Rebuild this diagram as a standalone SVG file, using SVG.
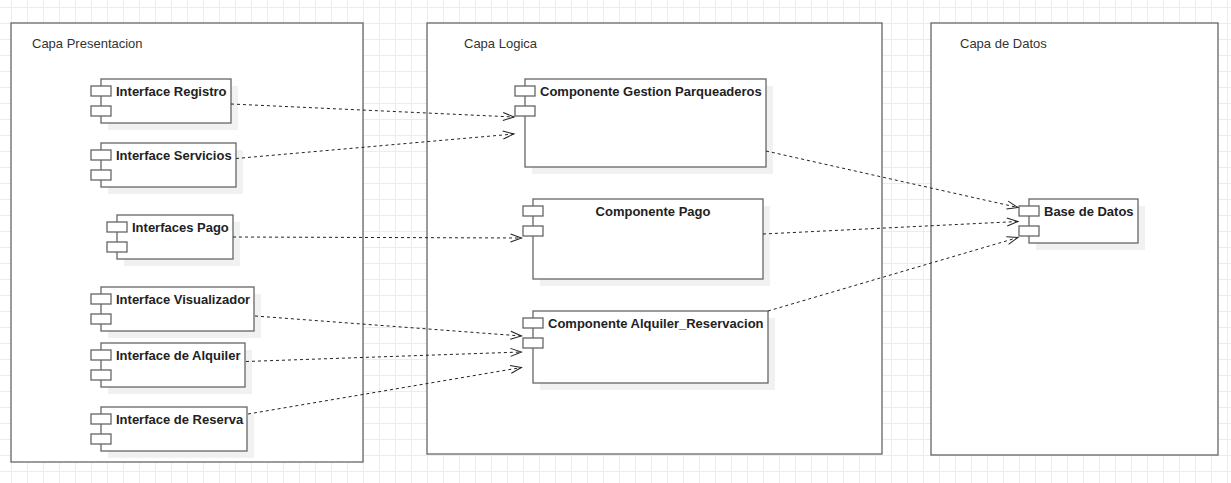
<svg xmlns="http://www.w3.org/2000/svg" width="1231" height="483" viewBox="0 0 1231 483">
<style>
.cont{fill:#fff;stroke:#666;stroke-width:1.3}
.clabel{font-family:"Liberation Sans",Arial,sans-serif;font-size:13px;fill:#333}
.body{fill:#fff;stroke:#666;stroke-width:1.3}
.jetty{fill:#fff;stroke:#666;stroke-width:1.3}
.shadow{fill:#f1f1f1}
.ntext{font-family:"Liberation Sans",Arial,sans-serif;font-size:13px;font-weight:bold;fill:#222}
.edge{fill:none;stroke:#222;stroke-width:1;stroke-dasharray:3 3}
</style>
<defs>
<pattern id="grid" patternUnits="userSpaceOnUse" x="11" y="7" width="16" height="16">
<path d="M0.5 0 V16 M0 0.5 H16" stroke="#ececec" stroke-width="1" fill="none"/>
</pattern>
<marker id="open" markerUnits="userSpaceOnUse" viewBox="-12 -6 14 12" refX="0" refY="0" markerWidth="14" markerHeight="12" orient="auto">
<path d="M-11,-4 L0,0 L-11,4" fill="none" stroke="#222" stroke-width="1"/>
</marker>
</defs>
<rect width="1231" height="483" fill="#fff"/>
<rect width="1231" height="483" fill="url(#grid)"/>

<g id="capa-presentacion">
<rect class="cont" x="11" y="23" width="352" height="439"/>
<text class="clabel" x="32" y="48">Capa Presentacion</text>
</g>
<g id="capa-logica">
<rect class="cont" x="427" y="23" width="455" height="431"/>
<text class="clabel" x="464" y="48">Capa Logica</text>
</g>
<g id="capa-datos">
<rect class="cont" x="931" y="23" width="287" height="432"/>
<text class="clabel" x="960" y="48">Capa de Datos</text>
</g>

<g id="interface-registro">
<rect class="shadow" x="108" y="86" width="130" height="44"/>
<rect class="body" x="101" y="79" width="130" height="44"/>
<rect class="jetty" x="91" y="86" width="20" height="10"/>
<rect class="jetty" x="91" y="106" width="20" height="10"/>
<text class="ntext" x="116" y="96">Interface Registro</text>
</g>
<g id="interface-servicios">
<rect class="shadow" x="108" y="150" width="135" height="44"/>
<rect class="body" x="101" y="143" width="135" height="44"/>
<rect class="jetty" x="91" y="150" width="20" height="10"/>
<rect class="jetty" x="91" y="170" width="20" height="10"/>
<text class="ntext" x="116" y="160">Interface Servicios</text>
</g>
<g id="interfaces-pago">
<rect class="shadow" x="124" y="222" width="116" height="44"/>
<rect class="body" x="117" y="215" width="116" height="44"/>
<rect class="jetty" x="107" y="222" width="20" height="10"/>
<rect class="jetty" x="107" y="242" width="20" height="10"/>
<text class="ntext" x="132" y="232">Interfaces Pago</text>
</g>
<g id="interface-visualizador">
<rect class="shadow" x="108" y="294" width="153" height="44"/>
<rect class="body" x="101" y="287" width="153" height="44"/>
<rect class="jetty" x="91" y="294" width="20" height="10"/>
<rect class="jetty" x="91" y="314" width="20" height="10"/>
<text class="ntext" x="116" y="304">Interface Visualizador</text>
</g>
<g id="interface-alquiler">
<rect class="shadow" x="108" y="350" width="144" height="44"/>
<rect class="body" x="101" y="343" width="144" height="44"/>
<rect class="jetty" x="91" y="350" width="20" height="10"/>
<rect class="jetty" x="91" y="370" width="20" height="10"/>
<text class="ntext" x="116" y="360">Interface de Alquiler</text>
</g>
<g id="interface-reserva">
<rect class="shadow" x="108" y="414" width="146" height="44"/>
<rect class="body" x="101" y="407" width="146" height="44"/>
<rect class="jetty" x="91" y="414" width="20" height="10"/>
<rect class="jetty" x="91" y="434" width="20" height="10"/>
<text class="ntext" x="116" y="424">Interface de Reserva</text>
</g>

<g id="componente-gestion">
<rect class="shadow" x="532" y="86" width="241" height="88"/>
<rect class="body" x="525" y="79" width="241" height="88"/>
<rect class="jetty" x="515" y="86" width="20" height="10"/>
<rect class="jetty" x="515" y="106" width="20" height="10"/>
<text class="ntext" x="540" y="96">Componente Gestion Parqueaderos</text>
</g>
<g id="componente-pago">
<rect class="shadow" x="540" y="206" width="230" height="80"/>
<rect class="body" x="533" y="199" width="230" height="80"/>
<rect class="jetty" x="523" y="206" width="20" height="10"/>
<rect class="jetty" x="523" y="226" width="20" height="10"/>
<text class="ntext" x="653" y="216" text-anchor="middle">Componente Pago</text>
</g>
<g id="componente-alquiler">
<rect class="shadow" x="540" y="318" width="235" height="72"/>
<rect class="body" x="533" y="311" width="235" height="72"/>
<rect class="jetty" x="523" y="318" width="20" height="10"/>
<rect class="jetty" x="523" y="338" width="20" height="10"/>
<text class="ntext" x="548" y="328">Componente Alquiler_Reservacion</text>
</g>
<g id="base-datos">
<rect class="shadow" x="1036" y="206" width="109" height="44"/>
<rect class="body" x="1029" y="199" width="109" height="44"/>
<rect class="jetty" x="1019" y="206" width="20" height="10"/>
<rect class="jetty" x="1019" y="226" width="20" height="10"/>
<text class="ntext" x="1044" y="216">Base de Datos</text>
</g>

<g id="connectors">
<path class="edge" marker-end="url(#open)" d="M231,104 L514,117"/>
<path class="edge" marker-end="url(#open)" d="M236,158.5 L514,134"/>
<path class="edge" marker-end="url(#open)" d="M233,237 L521.5,238"/>
<path class="edge" marker-end="url(#open)" d="M255,316 L521.5,336"/>
<path class="edge" marker-end="url(#open)" d="M246,361.5 L521.5,352"/>
<path class="edge" marker-end="url(#open)" d="M248,414 L521.5,367.5"/>
<path class="edge" marker-end="url(#open)" d="M766,151 L1018,207.5"/>
<path class="edge" marker-end="url(#open)" d="M763,234 L1018,221.5"/>
<path class="edge" marker-end="url(#open)" d="M768,311 L1018,237.5"/>
</g>
</svg>
